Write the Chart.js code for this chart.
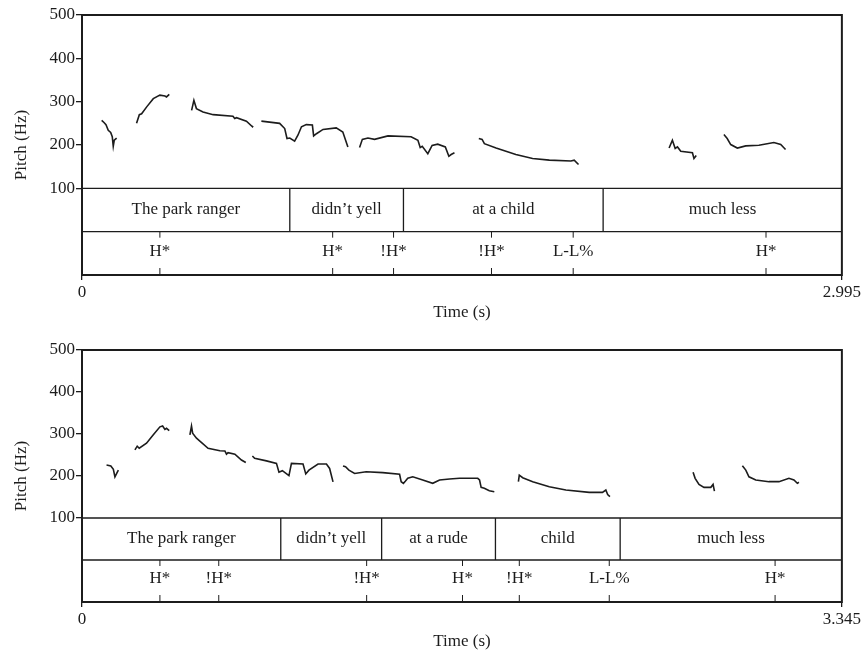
<!DOCTYPE html>
<html>
<head>
<meta charset="utf-8">
<script src="https://cdn.jsdelivr.net/npm/chart.js@4.4.1/dist/chart.umd.min.js"></script>
<style>
  html, body { margin: 0; padding: 0; background: #fff; overflow: hidden; }
  canvas { position: absolute; left: 0; }
  #grafico1 { top: 0; }
  #grafico2 { top: 325px; }
</style>
</head>
<body>
<canvas id="grafico1" width="863" height="325"></canvas>
<canvas id="grafico2" width="863" height="325"></canvas>
<script>
// sentence 1
const duration1 = 2.995;
const words1 = ['The park ranger', 'didn\u2019t yell', 'at a child', 'much less'];
const wordBounds1 = [0.819, 1.267, 2.054];
const tones1 = ['H*', 'H*', '!H*', '!H*', 'L-L%', 'H*'];
const toneTimes1 = [0.307, 0.988, 1.228, 1.614, 1.936, 2.696];
// pitch track, one array per voiced stretch: [time (s), pitch (Hz)]
const pitch1 = [
  [[0.0775, 257], [0.0866, 252], [0.0945, 247], [0.1035, 234], [0.113, 229], [0.1193, 219], [0.1232, 197], [0.1272, 211], [0.1365, 216]],
  [[0.215, 250], [0.226, 270], [0.235, 272], [0.255, 288], [0.281, 307], [0.307, 315], [0.327, 313], [0.333, 311], [0.344, 317]],
  [[0.432, 280], [0.441, 303], [0.451, 284], [0.477, 276], [0.517, 270], [0.595, 266.5], [0.602, 261], [0.609, 263], [0.648, 255], [0.672, 242], [0.674, 244]],
  [[0.707, 255], [0.779, 250], [0.799, 238], [0.808, 215], [0.819, 216], [0.838, 209], [0.851, 222.5], [0.865, 242], [0.884, 247], [0.908, 246], [0.913, 221], [0.924, 226], [0.950, 236], [1.002, 239.5], [1.028, 230], [1.048, 195.5]],
  [[1.094, 194], [1.105, 213], [1.127, 216], [1.153, 213], [1.206, 221], [1.297, 219], [1.324, 211], [1.333, 194], [1.341, 197], [1.363, 180], [1.380, 199], [1.402, 202], [1.432, 195.5], [1.446, 174], [1.455, 178], [1.468, 182]],
  [[1.564, 215], [1.577, 213], [1.586, 203], [1.632, 193], [1.710, 178], [1.776, 169], [1.842, 165], [1.927, 163], [1.940, 165], [1.957, 155]],
  [[2.314, 193], [2.327, 211], [2.338, 192], [2.347, 195.5], [2.360, 185.5], [2.406, 182], [2.412, 169], [2.421, 176]],
  [[2.530, 224], [2.543, 215], [2.557, 201], [2.583, 193], [2.616, 198], [2.668, 199.4], [2.727, 205.6], [2.754, 201], [2.773, 189.5]]
];

// sentence 2
const duration2 = 3.345;
const words2 = ['The park ranger', 'didn\u2019t yell', 'at a rude', 'child', 'much less'];
const wordBounds2 = [0.875, 1.319, 1.820, 2.369];
const tones2 = ['H*', '!H*', '!H*', 'H*', '!H*', 'L-L%', 'H*'];
const toneTimes2 = [0.343, 0.602, 1.253, 1.675, 1.925, 2.321, 3.051];
const pitch2 = [
  [[0.108, 226], [0.127, 224], [0.138, 216], [0.145, 198], [0.160, 214]],
  [[0.233, 262], [0.243, 271], [0.252, 266], [0.284, 278], [0.314, 298], [0.343, 317], [0.355, 319], [0.365, 311], [0.372, 313.5], [0.384, 308]],
  [[0.475, 298], [0.482, 319], [0.487, 302], [0.504, 290], [0.555, 266], [0.607, 260], [0.629, 259.5], [0.636, 252], [0.643, 255.5], [0.673, 252], [0.702, 238], [0.721, 232]],
  [[0.750, 247.6], [0.760, 242], [0.812, 236], [0.856, 230], [0.867, 209], [0.882, 212.7], [0.911, 201], [0.922, 230], [0.973, 228.6], [0.985, 205], [0.999, 214], [1.039, 228.6], [1.076, 228.6], [1.090, 218], [1.105, 186]],
  [[1.149, 224], [1.160, 222], [1.175, 214], [1.200, 206], [1.251, 210], [1.324, 208], [1.398, 204], [1.405, 186.5], [1.415, 182.6], [1.424, 188], [1.434, 194.5], [1.456, 198], [1.500, 190.5], [1.544, 182.6], [1.574, 190.5], [1.618, 193], [1.662, 194.5], [1.742, 194.5], [1.750, 190.5], [1.757, 173], [1.771, 170.7], [1.793, 165], [1.815, 162.6]],
  [[1.921, 186.5], [1.925, 202], [1.940, 196], [1.984, 186.5], [2.057, 174.6], [2.130, 166.7], [2.233, 161], [2.291, 161], [2.306, 166.7], [2.314, 156], [2.324, 151]],
  [[2.690, 209], [2.699, 194.5], [2.716, 180], [2.738, 173], [2.768, 173], [2.778, 180], [2.784, 164]],
  [[2.907, 224.5], [2.922, 214], [2.936, 198], [2.966, 190.5], [3.024, 186.5], [3.068, 186.5], [3.112, 194.5], [3.134, 190.5], [3.149, 182.6], [3.156, 185]]
];

const pitchTicks = [100, 200, 300, 400, 500];

const FONTE = "'Liberation Serif', 'Times New Roman', serif";
const COR = '#1c1c1c';

Chart.defaults.font.family = FONTE;
Chart.defaults.font.size = 17;
Chart.defaults.color = COR;

function montaSegmentos(segmentos) {
  return segmentos.map(seg => ({
    data: seg.map(p => ({ x: p[0], y: p[1] })),
    showLine: true,
    borderColor: COR,
    borderWidth: 1.6,
    pointRadius: 0,
    tension: 0
  }));
}

// draws the text tiers under the pitch track (word tier 100..0, tone tier 0..-100) and the frame
const tierPlugin = {
  id: 'tiers',
  afterDraw(chart, args, opts) {
    const { ctx, chartArea: a, scales: { x, y } } = chart;
    const yTop = y.getPixelForValue(100);
    const yMid = y.getPixelForValue(0);
    const yBot = y.getPixelForValue(-100);

    ctx.save();
    ctx.strokeStyle = COR;
    ctx.fillStyle = COR;
    ctx.lineWidth = 1.3;
    ctx.beginPath();
    ctx.moveTo(a.left, yTop); ctx.lineTo(a.right, yTop);
    ctx.moveTo(a.left, yMid); ctx.lineTo(a.right, yMid);
    opts.bounds.forEach(t => {
      const px = x.getPixelForValue(t);
      ctx.moveTo(px, yTop); ctx.lineTo(px, yMid);
    });
    ctx.stroke();

    ctx.lineWidth = 1;
    ctx.beginPath();
    opts.toneTimes.forEach(t => {
      const px = x.getPixelForValue(t);
      ctx.moveTo(px, yMid); ctx.lineTo(px, yMid + 6);
      ctx.moveTo(px, yBot - 7); ctx.lineTo(px, yBot);
    });
    ctx.stroke();

    ctx.font = '17px ' + FONTE;
    ctx.textAlign = 'center';
    ctx.textBaseline = 'middle';
    const limites = [x.min, ...opts.bounds, x.max];
    opts.words.forEach((w, i) => {
      const cx = (x.getPixelForValue(limites[i]) + x.getPixelForValue(limites[i + 1])) / 2;
      ctx.fillText(w, cx, (yTop + yMid) / 2);
    });
    opts.tones.forEach((s, i) => {
      ctx.fillText(s, x.getPixelForValue(opts.toneTimes[i]), (yMid + yBot) / 2 - 2);
    });

    ctx.lineWidth = 2;
    ctx.strokeRect(a.left, a.top, a.right - a.left, a.bottom - a.top);
    ctx.restore();
  }
};

function criaGrafico(id, segmentos, duracao, tier, topo, alturaEixoX, padTitulo) {
  return new Chart(document.getElementById(id), {
    type: 'scatter',
    data: { datasets: montaSegmentos(segmentos) },
    options: {
      responsive: false,
      animation: false,
      layout: { padding: { top: topo, right: 20, left: 0, bottom: 0 } },
      plugins: {
        legend: { display: false },
        tooltip: { enabled: false },
        tiers: tier
      },
      scales: {
        x: {
          type: 'linear',
          min: 0,
          max: duracao,
          afterBuildTicks: s => { s.ticks = [{ value: 0 }, { value: duracao }]; },
          ticks: { padding: 2, maxRotation: 0, callback: v => String(v) },
          grid: { drawOnChartArea: false, tickLength: 5, color: COR, lineWidth: 1.3 },
          border: { display: false },
          title: {
            display: true,
            text: 'Time (s)',
            font: { size: 17, lineHeight: 1 },
            padding: { top: 0, bottom: padTitulo }
          },
          afterFit: s => { s.height = alturaEixoX; }
        },
        y: {
          min: -100,
          max: 500,
          afterBuildTicks: s => { s.ticks = pitchTicks.map(v => ({ value: v })); },
          ticks: { padding: 1 },
          grid: { drawOnChartArea: false, tickLength: 6, color: COR, lineWidth: 1.3 },
          border: { display: false },
          title: {
            display: true,
            text: 'Pitch (Hz)',
            font: { size: 17, lineHeight: 1 },
            padding: { top: 13.5, bottom: 0 }
          },
          afterFit: s => { s.width = 82; }
        }
      }
    },
    plugins: [tierPlugin]
  });
}

const grafico1 = criaGrafico('grafico1', pitch1, duration1,
  { words: words1, bounds: wordBounds1, tones: tones1, toneTimes: toneTimes1 }, 15, 50, 4);

const grafico2 = criaGrafico('grafico2', pitch2, duration2,
  { words: words2, bounds: wordBounds2, tones: tones2, toneTimes: toneTimes2 }, 25, 48, 0);
</script>
</body>
</html>
